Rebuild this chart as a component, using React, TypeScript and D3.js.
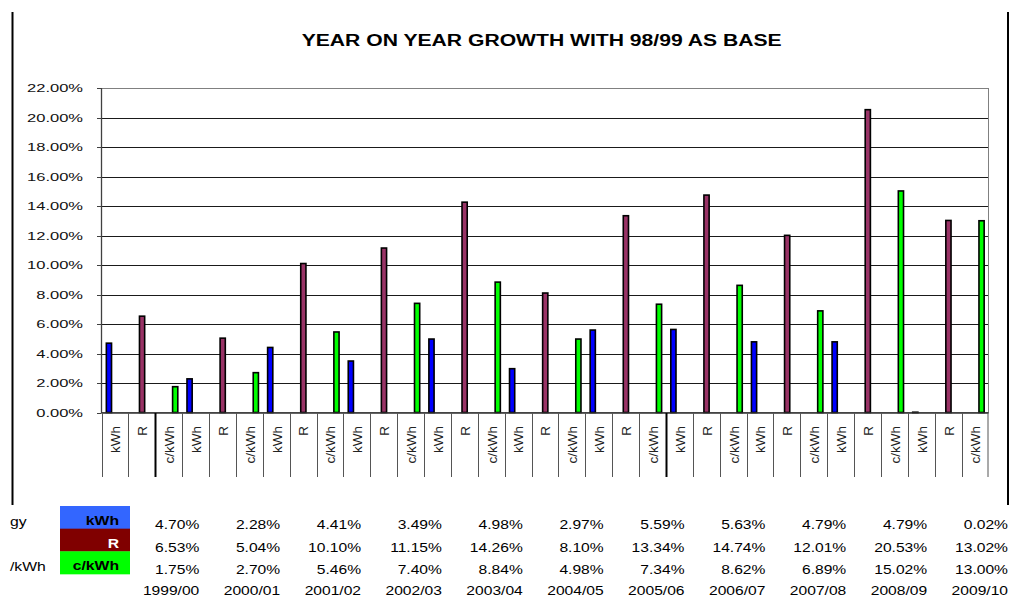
import React from "react";
import * as d3 from "d3";

const years = ["1999/00", "2000/01", "2001/02", "2002/03", "2003/04", "2004/05", "2005/06", "2006/07", "2007/08", "2008/09", "2009/10"];
const seriesNames = ["kWh", "R", "c/kWh"];
const kWhValues = [4.70, 2.28, 4.41, 3.49, 4.98, 2.97, 5.59, 5.63, 4.79, 4.79, 0.02];
const rValues = [6.53, 5.04, 10.10, 11.15, 14.26, 8.10, 13.34, 14.74, 12.01, 20.53, 13.02];
const cKWhValues = [1.75, 2.70, 5.46, 7.40, 8.84, 4.98, 7.34, 8.62, 6.89, 15.02, 13.00];
const yTicks = [0, 2, 4, 6, 8, 10, 12, 14, 16, 18, 20, 22];
const rowLabels = ["gy", "", "/kWh"];
const title = "YEAR ON YEAR GROWTH WITH 98/99 AS BASE";

const barColors: Record<string, string> = { "kWh": "#0000ff", "R": "#993366", "c/kWh": "#00ff00" };
const legendColors: Record<string, string> = { "kWh": "#3366ff", "R": "#800000", "c/kWh": "#00ff00" };
const legendText: Record<string, string> = { "kWh": "#000", "R": "#fff", "c/kWh": "#000" };

const FONT = "'Liberation Sans', Arial, sans-serif";

export default function App() {
  const W = 1009, H = 598;
  const series = [kWhValues, rValues, cKWhValues];
  const cats: { id: string; label: string; year: string; s: string; v: number }[] = [];
  years.forEach((yr, i) => {
    seriesNames.forEach((s, j) => {
      cats.push({ id: yr + "|" + s, label: s, year: yr, s, v: series[j][i] });
    });
  });

  const x = d3.scaleBand<string>().domain(cats.map(c => c.id)).range([101.5, 988.5]).padding(0);
  const y = d3.scaleLinear().domain([0, 22]).range([412.5, 88]);
  const off = d3.scalePoint<string>().domain(seriesNames).range([-6, 6.5]);
  const tableX = d3.scaleBand<string>().domain(years).range([118.4, 1008]);
  const rowY = d3.scalePoint<string>().domain([...seriesNames, "year"]).range([529, 597]);
  const bw = x.bandwidth();
  const barW = 5.2;

  const fmt = (v: number) => v.toFixed(2) + "%";

  return (
    <svg width={W} height={H} style={{ position: "absolute", left: 0, top: 0, background: "#fff" }} fontFamily={FONT}>
      <rect x={0} y={0} width={W} height={H} fill="#fff" />
      {/* outer chart border fragments */}
      <line x1={12.5} x2={12.5} y1={12} y2={505} stroke="#000" strokeWidth={2} />
      <line x1={1008} x2={1008} y1={12} y2={505} stroke="#000" strokeWidth={2} />

      {/* title */}
      <text x={541.7} y={45.5} textAnchor="middle" fontSize={15.8} fontWeight="bold" textLength={480} lengthAdjust="spacingAndGlyphs">{title}</text>

      {/* gridlines */}
      {yTicks.filter(t => t > 0 && t < 22).map(t => (
        <line key={"g" + t} x1={101.5} x2={988.5} y1={Math.round(y(t)) + 0.5} y2={Math.round(y(t)) + 0.5} stroke="#1a1a1a" strokeWidth={1} />
      ))}
      {/* plot border */}
      <rect x={101.5} y={88.5} width={887} height={324} fill="none" stroke="#808080" strokeWidth={1} />
      {/* y axis */}
      <line x1={101.5} x2={101.5} y1={88} y2={413} stroke="#404040" strokeWidth={1.3} />
      {yTicks.map(t => (
        <g key={"t" + t}>
          <line x1={97} x2={101.5} y1={Math.round(y(t)) + 0.5} y2={Math.round(y(t)) + 0.5} stroke="#404040" />
          <g transform={`translate(83,${y(t) + 4.2}) scale(1.5,1)`}>
            <text textAnchor="end" fontSize={11} fill="#111">{fmt(t)}</text>
          </g>
        </g>
      ))}

      {/* bars */}
      {cats.map(c => (
        <rect key={"b" + c.id}
          x={(x(c.id) as number) + bw / 2 + (off(c.s) as number) - barW / 2}
          y={y(c.v)}
          width={barW}
          height={Math.max(0.4, y(0) - y(c.v))}
          fill={barColors[c.s]} stroke="#000" strokeWidth={1.6} />
      ))}

      {/* x axis */}
      <line x1={101.5} x2={988.5} y1={413} y2={413} stroke="#303030" strokeWidth={1.3} />
      {cats.map((c, i) => (
        <line key={"s" + c.id} x1={Math.round(x(c.id) as number) + 0.5} x2={Math.round(x(c.id) as number) + 0.5} y1={413} y2={477}
          stroke={i === 2 || i === 21 ? "#000" : "#555"} strokeWidth={i === 2 || i === 21 ? 2 : 1} />
      ))}
      <line x1={988} x2={988} y1={413} y2={477} stroke="#555" />
      {cats.map(c => (
        <g key={"l" + c.id} transform={`translate(${(x(c.id) as number) + bw / 2 + 0.5},426) rotate(-90)`}>
          <text textAnchor="end" dy="0.36em" fontSize={13.5} fill="#222">{c.label}</text>
        </g>
      ))}

      {/* data table */}
      {seriesNames.map((s, j) => (
        <g key={"row" + s}>
          <rect x={60} y={(rowY(s) as number) - 23} width={70} height={23} fill={legendColors[s]} />
          <g transform={`translate(119,${(rowY(s) as number) - 4}) scale(1.26,1)`}>
            <text textAnchor="end" fontSize={12.5} fontWeight="bold" fill={legendText[s]}>{s}</text>
          </g>
          {rowLabels[j] && (
            <g transform={`translate(10,${(rowY(s) as number) - 3}) scale(1.26,1)`}>
              <text fontSize={12.5} fill="#000">{rowLabels[j]}</text>
            </g>
          )}
          {years.map((yr, i) => (
            <g key={"v" + yr} transform={`translate(${(tableX(yr) as number) + tableX.bandwidth()},${rowY(s)}) scale(1.25,1)`}>
              <text textAnchor="end" fontSize={12.5} fill="#000">{fmt(series[j][i])}</text>
            </g>
          ))}
        </g>
      ))}
      {years.map(yr => (
        <g key={"yr" + yr} transform={`translate(${(tableX(yr) as number) + tableX.bandwidth()},${(rowY("year") as number) - 2}) scale(1.25,1)`}>
          <text textAnchor="end" fontSize={12.5} fill="#000">{yr}</text>
        </g>
      ))}
    </svg>
  );
}
